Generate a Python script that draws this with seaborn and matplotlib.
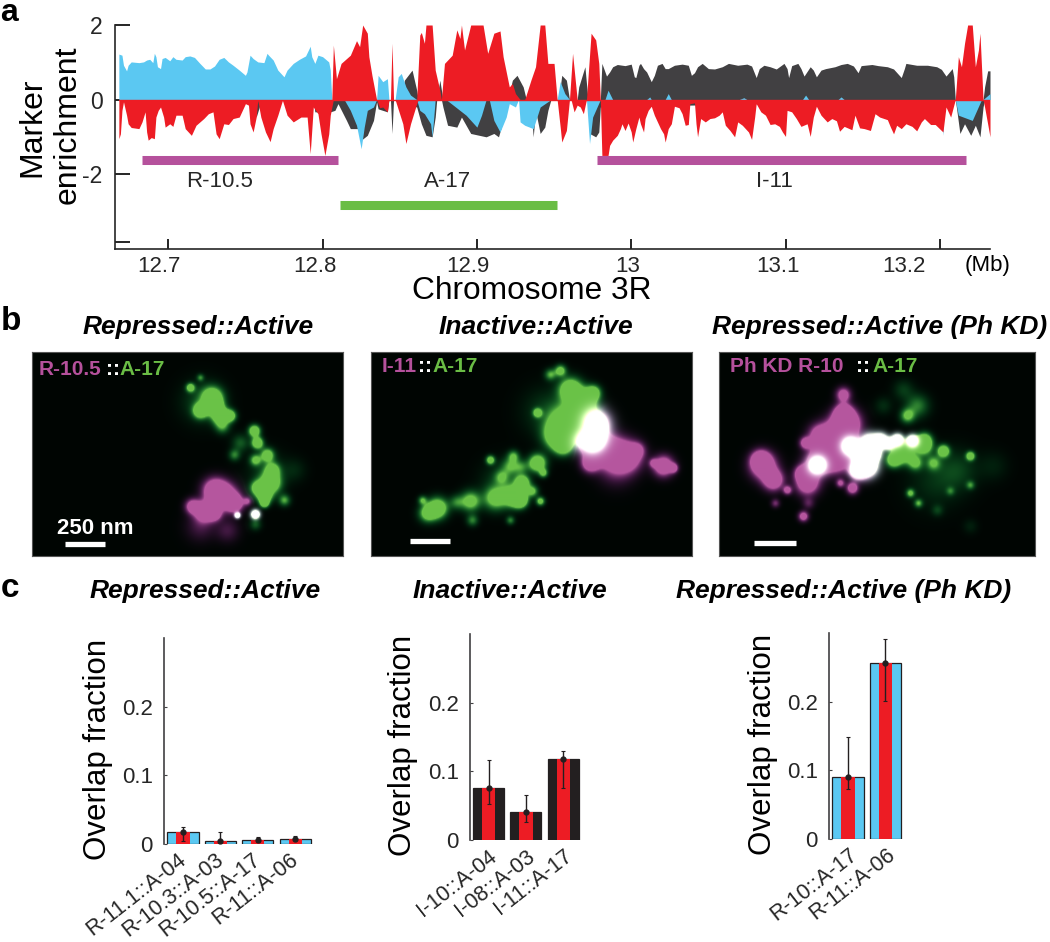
"""Chromatin domain overlap figure: enrichment track, STORM style images, overlap bars."""
import numpy as np
import matplotlib
matplotlib.use("Agg")
import matplotlib.pyplot as plt
from matplotlib.colors import to_rgb
from matplotlib.transforms import ScaledTranslation
import seaborn as sns

W, H = 1050, 942
BLUE = "#5bc8f2"
RED = "#ed1c24"
DARK = "#414042"
BLACK = "#231f20"
MAGENTA = "#b5519c"
GREEN = "#6abd45"

# ---------------------------------------------------------------
# panel a: marker tracks (Mb, enrichment)
# ---------------------------------------------------------------
blue_up_x = [12.668, 12.670, 12.671, 12.673, 12.674, 12.676, 12.681, 12.684, 12.686, 12.688, 12.690, 12.691,
             12.692, 12.693, 12.695, 12.696, 12.698, 12.701, 12.703, 12.705, 12.709, 12.711, 12.714, 12.717,
             12.7205, 12.724, 12.727, 12.730, 12.733, 12.736, 12.739, 12.742, 12.746, 12.750, 12.751, 12.753,
             12.755, 12.758, 12.762, 12.764, 12.765, 12.768, 12.771, 12.775, 12.777, 12.781, 12.785, 12.789,
             12.792, 12.793, 12.795, 12.797, 12.800, 12.804, 12.805, 12.806, 12.835, 12.836, 12.839, 12.842,
             12.843, 12.847, 12.849, 12.851, 12.854, 12.857, 12.861, 12.952, 12.954, 12.957, 12.960, 12.983,
             12.985, 12.988, 13.010, 13.012, 13.013, 13.022, 13.024, 13.026, 13.070, 13.073, 13.075, 13.111,
             13.113, 13.115, 13.134, 13.136, 13.138, 13.228, 13.2325]
blue_up_y = [1.22, 1.19, 0.92, 0.77, 0.92, 1.01, 0.99, 1.01, 1.06, 1.08, 0.99, 1.24,
             1.15, 0.88, 0.83, 1.10, 1.13, 1.04, 1.15, 1.08, 1.06, 1.15, 1.17, 1.13,
             0.97, 0.82, 0.82, 0.90, 1.08, 1.13, 1.01, 0.92, 0.79, 0.65, 0.74, 1.19,
             1.10, 1.01, 0.99, 1.24, 1.19, 1.06, 0.79, 0.61, 0.79, 0.97, 1.08, 1.17,
             1.43, 1.15, 0.97, 1.19, 1.15, 1.01, 0.79, 0, 0, 0.65, 0.48, 0.56,
             0, 0, 0.61, 0.70, 0.34, 0.12, 0, 0, 0.48, 0.16, 0, 0,
             0.25, 0, 0, 0.07, 0, 0, 0.16, 0, 0, 0.05, 0, 0,
             0.12, 0, 0, 0.07, 0, 0, 0.16]

red_up_x = [12.806, 12.807, 12.809, 12.812, 12.818, 12.822, 12.824, 12.826, 12.829, 12.830, 12.832, 12.835,
            12.844, 12.845, 12.846, 12.861, 12.863, 12.864, 12.866, 12.867, 12.871, 12.873, 12.876, 12.877,
            12.879, 12.884, 12.887, 12.889, 12.890, 12.892, 12.896, 12.904, 12.907, 12.911, 12.915, 12.917,
            12.921, 12.923, 12.925, 12.928, 12.931, 12.935, 12.938, 12.941, 12.944, 12.946, 12.950, 12.952,
            12.960, 12.962, 12.965, 12.971, 12.974, 12.977, 12.979, 12.980, 13.210, 13.212, 13.214, 13.216,
            13.218, 13.221, 13.223, 13.225, 13.226, 13.228]
red_up_y = [0, 1.46, 0.56, 0.97, 1.19, 1.58, 1.42, 2.0, 1.78, 1.15, 0.65, 0,
            0, 1.51, 0, 0, 1.73, 1.80, 1.51, 2.0, 2.0, 0.79, 0.25, 0,
            0.97, 1.19, 1.87, 1.64, 2.0, 1.33, 2.0, 2.0, 1.24, 1.78, 1.84, 1.15,
            0.34, 0.43, 0.16, 0, 0, 0.52, 0.88, 2.0, 2.0, 0.97, 0.97, 0,
            0, 1.24, 0, 0, 1.78, 1.60, 0.97, 0, 0, 1.15, 0.88, 1.51,
            2.0, 2.0, 0.88, 1.33, 1.78, 0]

grey_up_x = [12.851, 12.853, 12.858, 12.861, 12.862, 12.874, 12.876, 12.878, 12.920, 12.923, 12.926, 12.930,
             12.932, 12.953, 12.955, 12.958, 12.960, 12.965, 12.966, 12.970, 12.972, 12.980, 12.981, 12.984,
             12.986, 12.988, 12.991, 12.996, 13.000, 13.002, 13.003, 13.005, 13.006, 13.008, 13.010, 13.013,
             13.015, 13.017, 13.020, 13.022, 13.024, 13.028, 13.033, 13.037, 13.039, 13.041, 13.043, 13.046,
             13.050, 13.054, 13.059, 13.063, 13.069, 13.075, 13.078, 13.081, 13.083, 13.086, 13.090, 13.094,
             13.099, 13.101, 13.102, 13.104, 13.108, 13.110, 13.112, 13.116, 13.118, 13.120, 13.123, 13.126,
             13.132, 13.136, 13.140, 13.144, 13.147, 13.149, 13.156, 13.160, 13.166, 13.170, 13.175, 13.177,
             13.178, 13.185, 13.192, 13.198, 13.201, 13.204, 13.208, 13.209, 13.210, 13.228, 13.229, 13.231,
             13.2325]
grey_up_y = [0, 0.52, 0.79, 0.25, 0, 0, 0.52, 0, 0, 0.52, 0.65, 0.34,
             0, 0, 0.65, 0.52, 0, 0, 0.34, 0.88, 0, 0, 0.97, 0.63,
             0.74, 0.88, 0.94, 0.91, 0.95, 0.61, 0.59, 0.92, 0.97, 0.83, 0.74, 0.48,
             0.65, 0.92, 0.97, 0.83, 0.83, 0.92, 0.95, 0.92, 0.65, 0.72, 0.88, 0.97,
             0.83, 0.82, 0.88, 0.97, 0.92, 0.95, 0.90, 0.59, 0.83, 0.92, 0.88, 0.82,
             0.97, 0.83, 0.59, 0.91, 0.97, 0.83, 0.63, 0.88, 0.79, 0.61, 0.79, 0.83,
             0.88, 0.94, 0.97, 0.90, 0.72, 0.91, 0.94, 0.91, 0.88, 0.82, 0.59, 0.83,
             0.97, 0.92, 0.92, 0.88, 0.81, 0.63, 0.83, 0.61, 0, 0, 0.34, 0.77,
             0.77]

red_dn_x = [12.668, 12.669, 12.670, 12.671, 12.673, 12.674, 12.676, 12.681, 12.683, 12.685, 12.686, 12.687,
            12.689, 12.691, 12.692, 12.6935, 12.695, 12.697, 12.698, 12.701, 12.703, 12.705, 12.709, 12.711,
            12.715, 12.718, 12.723, 12.726, 12.729, 12.731, 12.733, 12.736, 12.739, 12.742, 12.746, 12.750,
            12.752, 12.753, 12.755, 12.757, 12.758, 12.760, 12.763, 12.766, 12.768, 12.771, 12.774, 12.777,
            12.781, 12.786, 12.790, 12.792, 12.794, 12.797, 12.799, 12.8015, 12.804, 12.805, 12.807, 12.835,
            12.837, 12.839, 12.842, 12.843, 12.847, 12.852, 12.854, 12.857, 12.861, 12.862, 12.952, 12.954,
            12.955, 12.958, 12.960, 12.961, 12.963, 12.965, 12.967, 12.969, 12.971, 12.980, 12.981, 12.985,
            12.986, 12.988, 12.991, 12.993, 12.994, 12.996, 12.998, 13.000, 13.001, 13.003, 13.005, 13.006,
            13.008, 13.009, 13.011, 13.013, 13.015, 13.019, 13.021, 13.022, 13.024, 13.026, 13.028, 13.031,
            13.033, 13.035, 13.037, 13.038, 13.041, 13.042, 13.043, 13.045, 13.048, 13.051, 13.054, 13.057,
            13.059, 13.061, 13.064, 13.067, 13.069, 13.072, 13.074, 13.076, 13.078, 13.080, 13.081, 13.084,
            13.087, 13.090, 13.093, 13.096, 13.098, 13.100, 13.101, 13.104, 13.107, 13.110, 13.114, 13.116,
            13.118, 13.120, 13.123, 13.127, 13.130, 13.133, 13.135, 13.138, 13.143, 13.145, 13.148, 13.151,
            13.155, 13.158, 13.161, 13.166, 13.168, 13.170, 13.172, 13.175, 13.178, 13.182, 13.185, 13.188,
            13.190, 13.194, 13.197, 13.202, 13.204, 13.207, 13.210, 13.228, 13.229, 13.2325]
red_dn_y = [-1.05, -0.92, -0.29, -0.06, -0.42, -0.65, -0.75, -0.78, -0.60, -0.33, -0.87, -1.09,
            -1.02, -1.05, -0.47, -0.29, -0.20, -0.47, -0.74, -0.65, -0.72, -0.42, -0.42, -0.78,
            -0.96, -0.69, -0.51, -0.38, -0.33, -0.92, -1.05, -0.65, -0.67, -0.51, -0.47, -0.11,
            -0.15, -0.65, -0.87, -0.47, -0.02, -0.47, -0.87, -1.13, -0.78, -0.42, -0.02, -0.42,
            -0.60, -0.47, -0.47, -1.45, -0.20, -0.38, -0.92, -1.50, -0.92, -0.42, 0, 0,
            -0.22, -0.20, -0.33, 0, 0, -0.65, -1.18, -0.65, -0.11, 0, 0, -0.74,
            -1.14, -0.83, 0, 0, -0.33, -0.15, -0.20, -0.38, 0, 0, -1.50, -1.50,
            -1.23, -1.09, -0.96, -0.78, -0.65, -0.83, -0.63, -0.87, -1.14, -0.78, -0.47, -0.65,
            -0.87, -0.51, -0.29, -0.18, -0.42, -0.78, -0.92, -1.14, -0.78, -0.65, -0.18, -0.22,
            -0.38, -0.69, -0.67, -0.11, -0.09, -0.65, -1.00, -0.51, -0.60, -0.51, -0.49, -0.42,
            -0.33, -0.69, -0.83, -1.00, -0.60, -0.69, -0.78, -0.87, -1.07, -0.47, -0.11, -0.33,
            -0.42, -0.67, -0.65, -0.72, -0.87, -0.99, -0.29, -0.33, -0.51, -0.72, -0.65, -0.99,
            -0.47, -0.18, -0.42, -0.60, -0.51, -0.57, -0.85, -0.72, -0.81, -0.42, -0.76, -0.78,
            -0.83, -0.38, -0.47, -0.54, -0.74, -0.92, -0.69, -0.78, -0.65, -0.72, -0.84, -0.60,
            -0.51, -0.67, -0.67, -0.87, -0.20, -0.47, 0, 0, -0.20, -1.00]

grey_dn_x = [12.752, 12.757, 12.759, 12.760, 12.794, 12.795, 12.797, 12.798, 12.804, 12.805, 12.808, 12.810,
             12.8155, 12.818, 12.823, 12.825, 12.829, 12.833, 12.835, 12.836, 12.842, 12.843, 12.844, 12.845,
             12.846, 12.861, 12.864, 12.867, 12.871, 12.873, 12.874, 12.877, 12.878, 12.881, 12.887, 12.890,
             12.896, 12.906, 12.911, 12.914, 12.919, 12.921, 12.933, 12.935, 12.9365, 12.938, 12.941, 12.944,
             12.946, 12.948, 12.972, 12.973, 12.977, 12.979, 12.980, 13.210, 13.211, 13.213, 13.216, 13.220,
             13.223, 13.226, 13.228, 13.229]
grey_dn_y = [0, -0.47, -0.20, 0, 0, -0.33, -0.33, 0, 0, -0.33, -0.29, -0.11,
             -0.56, -0.78, -0.78, -1.09, -0.96, -0.56, -0.06, -0.25, -0.33, 0, 0, -0.91,
             0, -0.20, -0.65, -0.96, -1.00, -0.47, 0, 0, -0.20, -0.69, -0.74, -0.47,
             -0.91, -1.00, -0.91, -1.00, -0.29, 0, 0, -0.20, -1.00, -0.29, -0.91, -0.74,
             -0.29, 0, 0, -0.91, -1.00, -0.87, -0.20, 0, -0.29, -0.91, -0.65, -0.96,
             -0.69, -1.00, -0.20, 0]

blue_dn_x = [12.814, 12.818, 12.822, 12.825, 12.827, 12.829, 12.833, 12.835, 12.861, 12.863, 12.866, 12.870,
             12.871, 12.873, 12.880, 12.893, 12.900, 12.903, 12.906, 12.908, 12.911, 12.915, 12.919, 12.921,
             12.925, 12.927, 12.928, 12.931, 12.9365, 12.941, 12.948, 12.971, 12.973, 12.975, 12.980, 13.200,
             13.202, 13.203, 13.210, 13.212, 13.221, 13.227]
blue_dn_y = [0, -0.29, -0.69, -1.32, -0.74, -0.29, -0.20, 0, 0, -0.29, -0.38, -0.65,
             -1.00, 0, 0, -0.42, -0.74, -0.42, 0, 0, -0.56, -0.87, -0.47, -0.11,
             -0.20, 0, -0.60, -0.69, -0.78, -0.20, 0, 0, -1.18, -0.47, 0, 0,
             -0.96, 0, 0, -0.42, -0.56, 0]

domain_names = ["R-10.5", "A-17", "I-11"]
domain_start = [12.683, 12.811, 12.978]
domain_end = [12.810, 12.952, 13.217]
domain_level = [-1.63, -2.83, -1.63]
domain_colors = [MAGENTA, GREEN, MAGENTA]
domain_label_x = [12.733, 12.881, 13.093]

track_xticks = [12.7, 12.8, 12.9, 13.0, 13.1, 13.2]
track_xlabels = ["12.7", "12.8", "12.9", "13", "13.1", "13.2"]
track_xshift = [-9, -8, -9, -4, -8, -36]

# ---------------------------------------------------------------
# panel b: images as blobs (x, y, size, strength), image pixels
# ---------------------------------------------------------------
img1_green = [(158, 36, 3, .8), (168, 26, 2.5, .4), (180, 46, 7, 1), (168, 59, 5, 1), (188, 64, 6, 1), (198, 64, 4, .8),
              (182, 54, 5, 1), (170, 50, 14, .25), (190, 75, 5, .4), (222, 79, 4, 1), (225, 91, 4, 1), (208, 91, 6, .3),
              (235, 103, 4.5, .8), (223, 108, 4, .6), (202, 103, 4, .4), (240, 118, 5, .7), (238, 131, 7, 1),
              (225, 136, 5, .8), (232, 144, 5, 1), (252, 148, 4, .5), (232, 151, 3, .8), (262, 118, 8, .12),
              (235, 120, 13, .2), (223, 162, 3, 1), (205, 163, 2, .8), (223, 172, 4, .3)]
img1_mag = [(182, 138, 8, 1), (192, 144, 9, 1), (202, 151, 6, 1), (160, 154, 5, .8), (172, 159, 7, 1),
            (182, 161, 5, .8), (215, 149, 3, .5), (168, 174, 10, .25), (195, 178, 8, .25), (223, 162, 3, 1),
            (205, 163, 2, .8)]

img2_green = [(66, 156, 7, 1), (51, 148, 3, .5), (56, 161, 6, .7), (99, 149, 7, .7), (101, 168, 4, .4), (119, 108, 3, .8),
              (124, 146, 8, .7), (142, 144, 7, 1), (139, 114, 6, .45), (139, 168, 3, .4), (199, 38, 8, 1), (189, 19, 4, .7),
              (179, 23, 4, .5), (212, 51, 9, 1), (196, 71, 12, 1), (186, 84, 9, 1), (192, 94, 6, .8), (166, 61, 3, .8),
              (222, 41, 5, .8), (166, 111, 6, 1), (172, 121, 3, .6), (161, 139, 4, .6), (169, 149, 3, .7), (149, 148, 5, 1),
              (142, 104, 4, .5), (152, 131, 5, .5), (222, 74, 10, 1), (221, 88, 8, 1), (130, 130, 14, .2), (175, 60, 16, .2),
              (85, 150, 5, .35), (130, 125, 5, .4), (150, 115, 5, .35), (150, 130, 5, .5)]
img2_mag = [(226, 71, 9, 1), (216, 91, 8, 1), (236, 98, 11, 1), (219, 111, 6, 1), (256, 104, 10, 1), (266, 98, 5, .5),
            (292, 114, 7, 1), (302, 116, 3, .8), (282, 111, 3, .5), (245, 115, 12, .4)]

img3_mag = [(124, 43, 5, .8), (124, 61, 6, 1), (121, 78, 10, 1), (101, 84, 8, 1), (86, 91, 4, .8), (128, 71, 9, 1),
            (108, 101, 8, 1), (44, 114, 9, 1), (41, 108, 6, 1), (54, 128, 7, 1), (88, 131, 8, 1), (83, 121, 5, 1),
            (68, 138, 3, .7), (133, 136, 4, .9), (121, 131, 3, .6), (84, 164, 3.5, .8), (56, 151, 3, .4), (89, 151, 4, .3),
            (98, 111, 9, 1), (118, 108, 9, .9), (141, 118, 7, .7), (131, 94, 6, 1), (144, 104, 7, 1), (148, 114, 7, 1),
            (161, 89, 5, 1), (178, 88, 4, 1), (193, 89, 4, 1), (154, 101, 5, 1), (138, 118, 5, 1), (150, 90, 6, .8),
            (170, 92, 4, .7)]
img3_green = [(98, 113, 6, 1), (131, 94, 6, 1), (144, 104, 7, 1), (148, 114, 7, 1), (161, 89, 5, 1), (178, 88, 4, 1),
              (193, 89, 4, 1), (154, 101, 5, 1), (138, 118, 5, .9), (184, 101, 7, 1), (204, 94, 6, .9), (224, 99, 4, 1),
              (174, 108, 5, .9), (251, 104, 3, .9), (188, 64, 5, .6), (198, 54, 8, .4), (184, 38, 7, .2), (196, 111, 5, .6),
              (214, 111, 5, .5), (191, 141, 3, .6), (199, 151, 3, .5), (251, 133, 3, .4), (231, 139, 3, .3),
              (238, 118, 14, .2), (218, 158, 4, .2), (274, 114, 10, .1), (164, 54, 6, .15), (251, 174, 5, .1),
              (215, 130, 18, .15), (150, 90, 6, .8), (170, 92, 4, .7), (205, 88, 5, .7)]

# ---------------------------------------------------------------
# panel c: overlap fractions
# ---------------------------------------------------------------
rep_labels = ["R-11.1::A-04", "R-10.3::A-03", "R-10.5::A-17", "R-11::A-06"]
rep_values = [0.017, 0.005, 0.006, 0.007]
rep_low = [0.005, 0.002, 0.003, 0.004]
rep_high = [0.025, 0.018, 0.010, 0.011]

ina_labels = ["I-10::A-04", "I-08::A-03", "I-11::A-17"]
ina_values = [0.076, 0.041, 0.118]
ina_low = [0.052, 0.026, 0.076]
ina_high = [0.116, 0.066, 0.130]

kd_labels = ["R-10::A-17", "R-11::A-06"]
kd_values = [0.091, 0.256]
kd_low = [0.073, 0.201]
kd_high = [0.148, 0.292]

sns.set_theme(style="ticks")
plt.rcParams["font.family"] = ["Liberation Sans", "DejaVu Sans"]
plt.rcParams["axes.linewidth"] = 1.2

fig = plt.figure(figsize=(W / 100, H / 100), dpi=100, facecolor="white")


def px_axes(left, top, right, bottom):
    return fig.add_axes([left / W, 1 - bottom / H, (right - left) / W, (bottom - top) / H])


def px_text(x, y, s, **kw):
    kw.setdefault("ha", "center")
    kw.setdefault("va", "center")
    kw.setdefault("color", "black")
    return fig.text(x / W, 1 - y / H, s, **kw)


# ---------------------------------------------------------------
# a. enrichment track
# ---------------------------------------------------------------
ax = px_axes(115, 25, 990, 249)
for xs, ys, col in [(grey_up_x, grey_up_y, DARK), (blue_up_x, blue_up_y, BLUE), (red_up_x, red_up_y, RED),
                    (grey_dn_x, grey_dn_y, DARK), (blue_dn_x, blue_dn_y, BLUE), (red_dn_x, red_dn_y, RED)]:
    ax.fill_between(xs, 0, ys, color=col, lw=0)
ax.plot([12.668, 13.2325], [0, 0], color=RED, lw=1)
for start, end, level, col in zip(domain_start, domain_end, domain_level, domain_colors):
    ax.plot([start, end], [level, level], color=col, lw=6.5, solid_capstyle="butt")
for name, lx in zip(domain_names, domain_label_x):
    ax.text(lx, -2.2, name, ha="center", va="center", fontsize=16)

ax.set_xlim(12.6655, 13.2325)
ax.set_ylim(-4.01, 2)
ax.set_xticks(track_xticks)
ax.set_xticklabels(track_xlabels, fontsize=16)
ax.set_yticks([2, 0, -2, -3.82])
ax.set_yticklabels(["2", "0", "-2", ""], fontsize=16.5)
ax.tick_params(axis="x", direction="in", length=7.5, width=1.2, pad=5, color="black")
ax.tick_params(axis="y", direction="in", length=11, width=1.2, pad=9, color="black")
for lab, shift in zip(ax.get_xticklabels(), track_xshift):
    lab.set_transform(lab.get_transform() + ScaledTranslation(shift / 100, 0, fig.dpi_scale_trans))
sns.despine(ax=ax)
ax.patch.set_alpha(0)

px_text(988, 265, "(Mb)", fontsize=16)
px_text(532, 299, "Chromosome 3R", fontsize=22.8, va="baseline")
px_text(32, 127, "Marker", fontsize=23, rotation=90)
px_text(68, 125, "enrichment", fontsize=23, rotation=90)

# ---------------------------------------------------------------
# b. images
# ---------------------------------------------------------------
GREEN_RGB = np.array(to_rgb(GREEN))
GREEN_LOW = np.array([0.02, 0.52, 0.20])
MAG_RGB = np.array(to_rgb(MAGENTA))
MAG_LOW = np.array([0.50, 0.12, 0.50])


def blob_field(blobs, nx, ny):
    yy, xx = np.mgrid[0:ny, 0:nx]
    field = np.zeros((ny, nx))
    for bx, by, size, amp in blobs:
        field += amp * np.exp(-((xx - bx) ** 2 + (yy - by) ** 2) / (2 * size ** 2))
    return np.clip(field / 0.55, 0, 1)[..., None]


def draw_image(box, green_blobs, mag_blobs, pieces, text_y, bar):
    left, top, right, bottom = box
    nx, ny = right - left, bottom - top
    g = blob_field(green_blobs, nx, ny)
    m = blob_field(mag_blobs, nx, ny)
    rgb = g * (GREEN_LOW * (1 - g ** 2) + GREEN_RGB * g ** 2) + m * (MAG_LOW * (1 - m ** 2) + MAG_RGB * m ** 2)
    rgb = np.clip(rgb + 0.4 * np.minimum(g, m) + np.array([0.0, 0.02, 0.01]), 0, 1)
    im_ax = px_axes(left, top, right, bottom)
    im_ax.imshow(rgb, aspect="auto", interpolation="bilinear")
    im_ax.set_xticks([])
    im_ax.set_yticks([])
    for sp in im_ax.spines.values():
        sp.set_color("#555555")
        sp.set_linewidth(0.8)
    for tx, s, col in pieces:
        im_ax.text(tx, text_y, s, color=col, fontsize=15, fontweight="bold", va="center", ha="left")
    im_ax.plot(bar[:2], [bar[2], bar[2]], color="white", lw=3.8, solid_capstyle="butt")
    return im_ax


draw_image((32, 352, 343, 556), img1_green, img1_mag,
           [(6, "R-10.5", MAGENTA), (73, "::", "white"), (87, "A-17", GREEN)], 17, (32, 72, 191.5))
draw_image((371, 352, 692, 556), img2_green, img2_mag,
           [(10, "I-11", MAGENTA), (47, "::", "white"), (61, "A-17", GREEN)], 14, (38, 78, 188.5))
draw_image((719, 352, 1035, 556), img3_green, img3_mag,
           [(10, "Ph KD R-10", MAGENTA), (136, "::", "white"), (153, "A-17", GREEN)], 14, (34, 76, 190))
px_text(95, 529, "250 nm", color="white", fontsize=16, fontweight="bold")

for x, s in [(198, "Repressed::Active"), (536, "Inactive::Active"), (880, "Repressed::Active (Ph KD)")]:
    px_text(x, 327, s, fontsize=19, fontweight="bold", fontstyle="italic")

# ---------------------------------------------------------------
# c. overlap bars
# ---------------------------------------------------------------


def overlap_panel(box, labels, values, low, high, outer, ylab_x, label_shift):
    left, top, bottom, first_center = box
    step = 37.45
    ax_c = px_axes(left, top, left + step * 5, bottom)
    sns.barplot(x=labels, y=values, color=outer, saturation=1, width=0.83, edgecolor=BLACK, linewidth=0.9, ax=ax_c)
    sns.barplot(x=labels, y=values, color=RED, saturation=1, width=0.35, linewidth=0, ax=ax_c)
    pos = np.arange(len(values))
    yerr = [np.array(values) - np.array(low), np.array(high) - np.array(values)]
    ax_c.errorbar(pos, values, yerr=yerr, fmt="o", color=BLACK, ms=3.5, elinewidth=1, capsize=1.5, capthick=0.8)
    x0 = -(first_center - left) / step
    ax_c.set_xlim(x0, x0 + 5)
    ax_c.set_ylim(0, (bottom - top) / 686)
    ax_c.set_yticks([0, 0.1, 0.2])
    ax_c.set_yticklabels(["0", "0.1", "0.2"], fontsize=16)
    ax_c.tick_params(axis="y", direction="in", length=2, width=0.8, pad=8, color=DARK)
    ax_c.tick_params(axis="x", length=0, pad=4)
    ax_c.set_xticks(pos)
    ax_c.set_xticklabels(labels, fontsize=15.5, rotation=38, ha="right", va="top", rotation_mode="anchor")
    for lab in ax_c.get_xticklabels():
        lab.set_transform(lab.get_transform() + ScaledTranslation(label_shift / 100, 0, fig.dpi_scale_trans))
    ax_c.set_ylabel("")
    sns.despine(ax=ax_c, bottom=True)
    ax_c.spines["left"].set_color(DARK)
    ax_c.patch.set_alpha(0)
    px_text(ylab_x, (top + bottom) / 2 + 8, "Overlap fraction", fontsize=22.5, rotation=90)


overlap_panel((164, 638, 844, 183), rep_labels, rep_values, rep_low, rep_high, BLUE, 98, -6)
overlap_panel((470, 634, 840, 488.5), ina_labels, ina_values, ina_low, ina_high, BLACK, 403, 0)
overlap_panel((829, 633, 839, 848), kd_labels, kd_values, kd_low, kd_high, BLUE, 763, 1)

for x, s in [(205, "Repressed::Active"), (510, "Inactive::Active"), (844, "Repressed::Active (Ph KD)")]:
    px_text(x, 591, s, fontsize=19, fontweight="bold", fontstyle="italic")

# panel letters
px_text(9, 21, "a", fontsize=23, fontweight="bold", va="baseline")
px_text(11, 330, "b", fontsize=24, fontweight="bold", va="baseline")
px_text(10, 597, "c", fontsize=24, fontweight="bold", va="baseline")

fig.savefig("out.png", dpi=100)
